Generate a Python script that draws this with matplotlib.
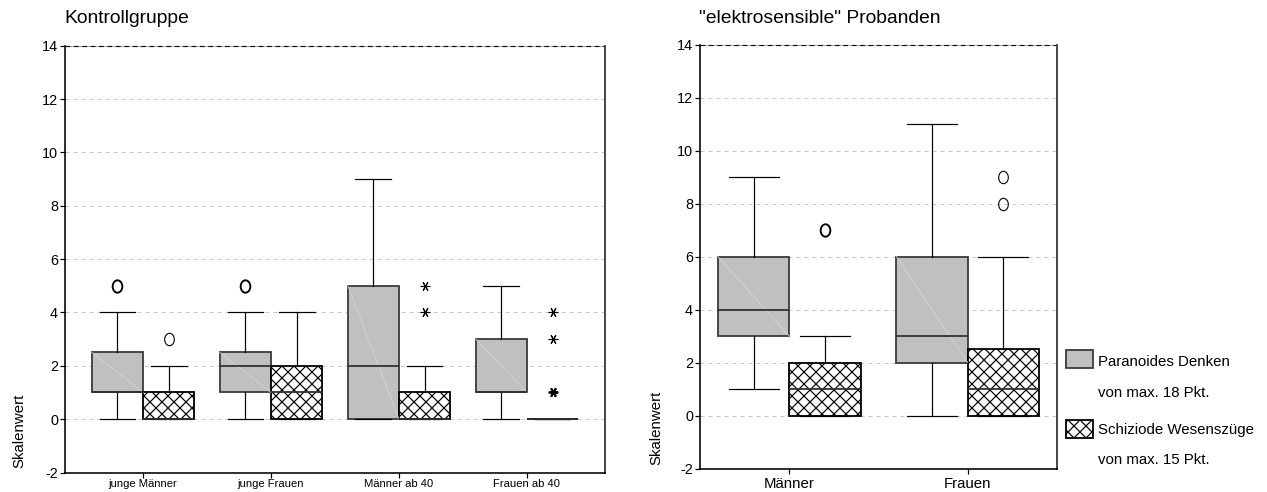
import numpy as np
import matplotlib
matplotlib.use("Agg")
import matplotlib.pyplot as plt
from matplotlib.patches import Rectangle
from matplotlib.path import Path
from matplotlib.transforms import Affine2D

plt.rcParams['font.family'] = ['Liberation Sans', 'DejaVu Sans']
plt.rcParams['axes.unicode_minus'] = False
plt.rcParams['hatch.linewidth'] = 0.6

# ---- data ---------------------------------------------------------------
# five-number summaries per box: whisker low, Q1, median, Q3, whisker high
ctrl_groups = ["junge Männer", "junge Frauen", "Männer ab 40", "Frauen ab 40"]
ctrl_paranoid = [[0, 1, 1, 2.5, 4], [0, 1, 2, 2.5, 4], [0, 0, 2, 5, 9], [0, 1, 1, 3, 5]]
ctrl_schizoid = [[0, 0, 0, 1, 2], [0, 0, 1, 2, 4], [0, 0, 0, 1, 2], [0, 0, 0, 0, 0]]
ctrl_paranoid_outliers = [[5, 5], [5, 5], [], []]
ctrl_paranoid_extremes = [[], [], [], []]
ctrl_schizoid_outliers = [[3], [], [], []]
ctrl_schizoid_extremes = [[], [], [4, 5], [1, 1, 3, 4]]

es_groups = ["Männer", "Frauen"]
es_paranoid = [[1, 3, 4, 6, 9], [0, 2, 3, 6, 11]]
es_schizoid = [[0, 0, 1, 2, 3], [0, 0, 1, 2.5, 6]]
es_paranoid_outliers = [[], []]
es_paranoid_extremes = [[], []]
es_schizoid_outliers = [[7, 7], [8, 9]]
es_schizoid_extremes = [[], []]

y_ticks = [-2, 0, 2, 4, 6, 8, 10, 12, 14]
panel_titles = ["Kontrollgruppe", "\"elektrosensible\" Probanden"]
y_label = "Skalenwert"
legend_labels = [("Paranoides Denken", "von max. 18 Pkt."),
                 ("Schiziode Wesenszüge", "von max. 15 Pkt.")]

# ---- styling ------------------------------------------------------------
W, H, DPI = 1267, 492, 144
GRAY = '#c0c0c0'
HATCH = 'xxxx'
BOX_W = 0.4
CAP_W = 0.28
ELLIPSE = Path.unit_circle().transformed(Affine2D().scale(0.78, 1.0))
ASTERISK = (6, 2, 30)

fig = plt.figure(figsize=(W / DPI, H / DPI), dpi=DPI)


def px_rect(x0, y_top, x1, y_bot):
    return [x0 / W, 1 - y_bot / H, (x1 - x0) / W, (y_bot - y_top) / H]


def stats_from(rows):
    keys = ["whislo", "q1", "med", "q3", "whishi"]
    return [dict(zip(keys, r)) for r in rows]


def draw_series(ax, xs, rows, fill, hatch, edge, diagonal):
    ax.bxp(stats_from(rows), positions=xs, widths=BOX_W, capwidths=CAP_W,
           patch_artist=True, showfliers=False, manage_ticks=False,
           boxprops=dict(facecolor=fill, edgecolor=edge, linewidth=0.9, hatch=hatch),
           whiskerprops=dict(color='black', linewidth=0.6),
           capprops=dict(color='black', linewidth=0.6),
           medianprops=dict(color='#303030', linewidth=0.9, zorder=2.3))
    if diagonal:
        for x, r in zip(xs, rows):
            ax.plot([x - BOX_W / 2, x + BOX_W / 2], [r[3], r[1]],
                    color='#d4d4d4', lw=0.4, zorder=2.1)


def draw_points(ax, xs, values, marker, ms):
    for x, vals in zip(xs, values):
        if not vals:
            continue
        v, n = np.unique(vals, return_counts=True)
        for vi, ni in zip(v, n):
            ax.plot([x], [vi], linestyle='none', marker=marker, ms=ms,
                    mfc='none', mec='black', mew=0.55 + 0.4 * (ni - 1),
                    zorder=5, clip_on=False)


def draw_panel(ax, groups, par, sch, par_out, par_ext, sch_out, sch_ext, pad, tick_fs, tick_pad):
    centers = np.arange(1, len(groups) + 1)
    xs_p = centers - BOX_W / 2
    xs_s = centers + BOX_W / 2
    draw_series(ax, xs_p, par, GRAY, None, '#3a3a3a', True)
    draw_series(ax, xs_s, sch, 'white', HATCH, 'black', False)
    draw_points(ax, xs_p, par_out, ELLIPSE, 6.2)
    draw_points(ax, xs_s, sch_out, ELLIPSE, 6.2)
    draw_points(ax, xs_p, par_ext, ASTERISK, 4.8)
    draw_points(ax, xs_s, sch_ext, ASTERISK, 4.8)

    ax.set_xlim(1 - pad, len(groups) + pad)
    ax.set_ylim(-2, 14)
    ax.set_xticks(centers)
    ax.set_xticklabels(groups, fontsize=tick_fs)
    ax.set_yticks(y_ticks)
    ax.set_yticklabels([str(t) for t in y_ticks], fontsize=7.2)
    ax.tick_params(axis='y', length=2.5, width=0.6, pad=1)
    ax.tick_params(axis='x', length=2.5, width=0.6, pad=tick_pad)

    ax.set_axisbelow(True)
    ax.grid(axis='y', color='#c8c8c8', linestyle=(0, (4, 4)), linewidth=0.5)
    ax.spines['top'].set_visible(False)
    ax.axhline(14, color='#a8a8a8', lw=0.5, zorder=0.6, clip_on=False)
    ax.axhline(14, color='#111111', lw=0.6, linestyle=(0, (4, 3)), zorder=0.7, clip_on=False)
    for side in ('left', 'bottom'):
        ax.spines[side].set_linewidth(0.8)
        ax.spines[side].set_color('black')
    ax.spines['right'].set_linewidth(1.0)
    ax.spines['right'].set_color('#4a4a4a')


ax1 = fig.add_axes(px_rect(65, 45.7, 605, 472.5))
ax2 = fig.add_axes(px_rect(700, 44.7, 1057, 468.5))

draw_panel(ax1, ctrl_groups, ctrl_paranoid, ctrl_schizoid,
           ctrl_paranoid_outliers, ctrl_paranoid_extremes,
           ctrl_schizoid_outliers, ctrl_schizoid_extremes, 0.61, 5.6, 0.8)
draw_panel(ax2, es_groups, es_paranoid, es_schizoid,
           es_paranoid_outliers, es_paranoid_extremes,
           es_schizoid_outliers, es_schizoid_extremes, 0.5, 7.5, 1.5)

# panel titles and axis labels
fig.text(64 / W, 1 - 23 / H, panel_titles[0], fontsize=9.6, va='baseline')
fig.text(699 / W, 1 - 23 / H, panel_titles[1], fontsize=9.6, va='baseline')
fig.text(19 / W, 1 - 468 / H, y_label, rotation=90, ha='center', va='bottom', fontsize=7.5)
fig.text(656 / W, 1 - 465 / H, y_label, rotation=90, ha='center', va='bottom', fontsize=7.5)

# legend
legend_styles = [dict(facecolor=GRAY, edgecolor='#3a3a3a', hatch=None),
                 dict(facecolor='white', edgecolor='black', hatch=HATCH)]
patch_tops = [350, 420]
line1_y = [362, 430]
line2_y = [393, 460]
for (l1, l2), style, top, y1, y2 in zip(legend_labels, legend_styles, patch_tops, line1_y, line2_y):
    fig.add_artist(Rectangle((1066 / W, 1 - (top + 18) / H), 27 / W, 18 / H,
                             transform=fig.transFigure, lw=0.9, **style))
    fig.text(1098 / W, 1 - y1 / H, l1, va='center', fontsize=7.5)
    fig.text(1098 / W, 1 - y2 / H, l2, va='center', fontsize=7.5)

fig.savefig("out.png", dpi=DPI)
